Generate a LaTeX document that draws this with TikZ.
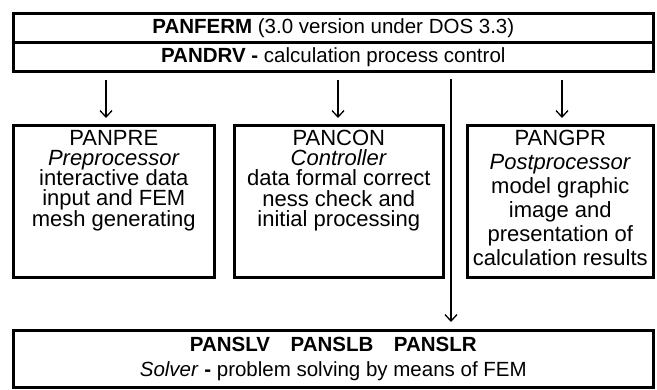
\documentclass[tikz,border=0pt]{standalone}
\usepackage{fontspec}
\setmainfont{Liberation Sans}
\usetikzlibrary{positioning,arrows.meta}
\newcommand\modfont[1]{\fontsize{22}{#1}\selectfont\setlength{\lineskiplimit}{-20pt}}

\begin{document}
\begin{tikzpicture}[x=1pt,y=-1pt,
		frame/.style={draw, line width=2.6pt, inner sep=0pt},
		rowtext/.style={font=\fontsize{20.5}{21}\selectfont},
		boxtext/.style={align=center, inner sep=0pt, font=\modfont{20.2}},
		flow/.style={line width=1.3pt, -{Straight Barb[length=6.5pt,width=12pt,line width=1.3pt]}}]
		%%%%% START %%%%%
		\useasboundingbox (0, 0) rectangle (657, 389);
		
		% driver on top
		\node[frame, minimum width=640pt, minimum height=29pt, anchor=north west] (ferm) at (12, 12) {};
		\node[frame, minimum width=640pt, minimum height=29pt, anchor=north west] (drv) at (12, 41) {};
		\node[rowtext] (fermtext) at (ferm.center) {\textbf{PANFERM} (3.0 version under DOS 3.3)};
		\node[rowtext] (drvtext) at (drv.center) {\textbf{PANDRV -} calculation process control};
		
		% three modules
		\node[frame, minimum width=201pt, minimum height=152pt, anchor=north west] (pre) at (12, 124) {};
		\node[frame, minimum width=209pt, minimum height=152pt, anchor=north west] (con) at (233, 124) {};
		\node[frame, minimum width=186pt, minimum height=152pt, anchor=north west] (gpr) at (466, 124) {};
		
		\node[boxtext, below=6pt of pre.north] (pretext) {PANPRE\\\textit{Preprocessor}\\interactive data\\input and FEM\\mesh generating};
		\node[boxtext, below=6pt of con.north] (context) {PANCON\\\textit{Controller}\\data formal correct\\ness check and\\initial processing};
		\node[boxtext, below=6pt of gpr.north, font=\modfont{24}] (gprtext) {PANGPR\\\textit{Postprocessor}\\model graphic\\image and\\presentation of\\calculation results};
		
		% solver at the bottom
		\node[frame, minimum width=640pt, minimum height=57pt, anchor=north west] (slv) at (12, 329) {};
		\node[align=center, inner sep=0pt, font=\fontsize{20.5}{25}\selectfont] (slvtext) at (slv.center) {\textbf{PANSLV\hspace{1em}PANSLB\hspace{1em}PANSLR}\\\textit{Solver} \textbf{-} problem solving by means of FEM};
		
		% connectors
		\coordinate (a1) at (106, 80);
		\coordinate (a2) at (338, 80);
		\coordinate (a3) at (562, 80);
		\coordinate (a4) at (451, 79);
		\draw[flow, shorten >=6pt] (a1) -- (a1 |- pre.north);
		\draw[flow, shorten >=6pt] (a2) -- (a2 |- con.north);
		\draw[flow, shorten >=6pt] (a3) -- (a3 |- gpr.north);
		\draw[flow, shorten >=7pt] (a4) -- (a4 |- slv.north);
		%%%%% END %%%%%
\end{tikzpicture}
\end{document}
